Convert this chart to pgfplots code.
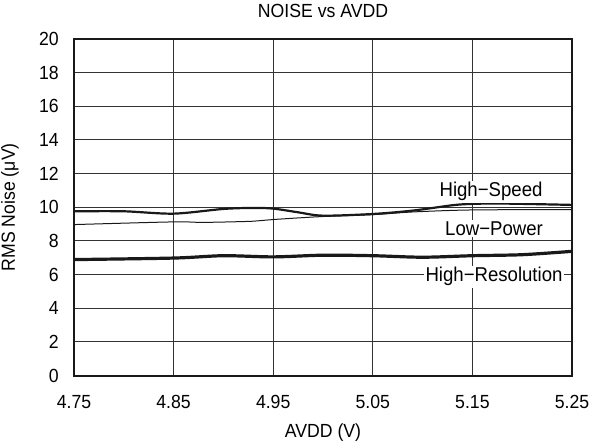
\documentclass[border=0pt]{standalone}
\usepackage{pgfplots}
\pgfplotsset{compat=1.18}
\usepackage{fontspec}
\setmainfont{Liberation Sans}[FakeStretch=0.93]
\begin{document}
\fontsize{19bp}{22bp}\selectfont
\begin{tikzpicture}
\useasboundingbox (-74bp,-65.5bp) rectangle (515bp,375.5bp);
\begin{axis}[
  at={(0,0)}, anchor=south west,
  scale only axis, width=498bp, height=336.5bp,
  xmin=4.75, xmax=5.25, ymin=0, ymax=20,
  xtick={4.75,4.85,4.95,5.05,5.15,5.25},
  ytick={0,2,...,20},
  xticklabel style={/pgf/number format/fixed,/pgf/number format/fixed zerofill,/pgf/number format/precision=2, anchor=north, inner sep=0pt, yshift=-19.5bp},
  yticklabel style={anchor=east, inner sep=0pt, xshift=-15bp},
  /pgf/number format/assume math mode=true,
  major tick length=0pt,
  grid=major,
  major grid style={line width=0.9bp, black!80},
  axis line style={line width=2bp, black!90},
  title={NOISE vs AVDD},
  title style={at={(axis description cs:0.5,1.0467)}, anchor=base, inner sep=0pt},
  xlabel={AVDD (V)},
  xlabel style={at={(axis description cs:0.5,-0.1828)}, anchor=base, inner sep=0pt},
  ylabel={RMS Noise (μV)},
  ylabel style={at={(axis description cs:-0.1185,0.5)}, anchor=base, inner sep=0pt},
  tick label style={font=\fontsize{19bp}{22bp}\selectfont},
  label style={font=\fontsize{19bp}{22bp}\selectfont},
  clip=true,
]
\addplot[black!90, line width=2.2bp, smooth, tension=0.5] coordinates {
(4.75,9.76)(4.80,9.76)(4.85,9.62)(4.90,9.9)(4.93,9.96)(4.95,9.92)(4.975,9.7)(5.0,9.5)(5.05,9.6)(5.09,9.8)(5.13,10.12)(5.15,10.2)(5.18,10.22)(5.25,10.14)};
\addplot[black!90, line width=1bp, smooth, tension=0.5] coordinates {
(4.75,8.97)(4.85,9.13)(4.88,9.1)(4.93,9.17)(4.95,9.27)(5.0,9.45)(5.05,9.56)(5.09,9.72)(5.15,9.84)(5.25,9.86)};
\addplot[black!90, line width=3.2bp, smooth, tension=0.5] coordinates {
(4.75,6.89)(4.85,6.98)(4.90,7.12)(4.95,7.05)(5.0,7.15)(5.05,7.12)(5.10,7.03)(5.15,7.12)(5.20,7.18)(5.25,7.38)};
\node[fill=white, inner sep=1.5bp, anchor=base, font=\fontsize{20bp}{23bp}\selectfont] at (axis cs:5.1687,10.61) {High−Speed};
\node[fill=white, inner sep=1.5bp, anchor=base, font=\fontsize{20bp}{23bp}\selectfont] at (axis cs:5.1717,8.35) {Low−Power};
\node[fill=white, inner sep=1.5bp, anchor=base, font=\fontsize{20bp}{23bp}\selectfont] at (axis cs:5.1717,5.56) {High−Resolution};
\end{axis}
\end{tikzpicture}
\end{document}
